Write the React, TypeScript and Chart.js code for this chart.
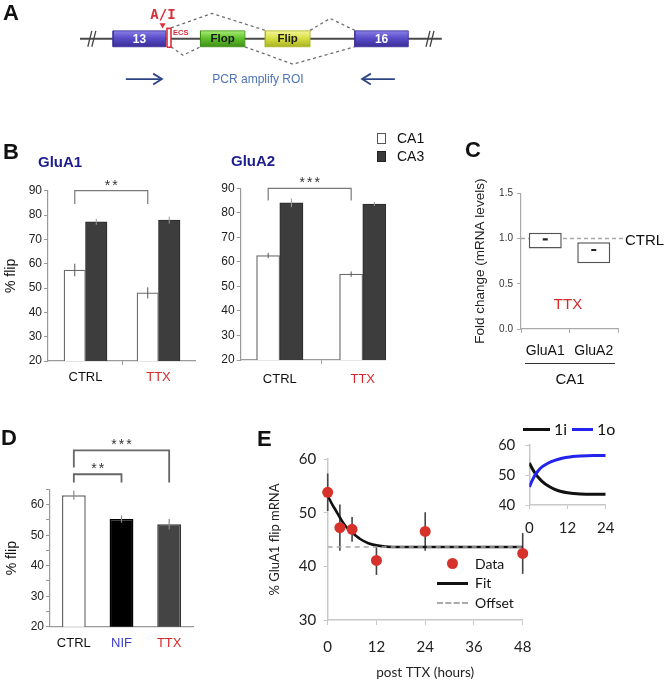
import React, { useEffect, useRef } from "react";
import { Chart, registerables } from "chart.js";

Chart.register(...registerables);

const W = 664;
const H = 682;
const SANS = "'Liberation Sans', Arial, Helvetica, sans-serif";
const LATO = "Lato, 'Liberation Sans', Arial, sans-serif";
const MONO = "'DejaVu Sans Mono', 'Liberation Mono', monospace";
const RED = "#d42a2a";

Chart.defaults.font.family = SANS;
Chart.defaults.color = "#222";

// ---------------- Panel A (diagram units: x 0–100 along the gene) ----------------
const intronSpan = [0, 99.4];
const exonNames = ["13", "Flop", "Flip", "16"];
const exonStart = [9.07, 33.1, 50.9, 75.5];
const exonEnd = [23.6, 45.3, 63.2, 90.2];
const exonHalf = 0.8;
const exonShade = [
  ["#8a80e6", "#5a4dc9", "#3a2e99"],
  ["#a8ec78", "#62c42c", "#3f8f18"],
  ["#f4f59a", "#d8e046", "#a9b320"],
  ["#8a80e6", "#5a4dc9", "#3a2e99"],
];
const exonTextColor = ["#ffffff", "#1a1a1a", "#1a1a1a", "#ffffff"];
const slashX = [2.7, 3.8, 95.6, 96.7];
const spliceUpper = [
  [[25.0, 1.1], [36.3, 2.55], [50.9, 0.85]],
  [[63.2, 0.85], [68.7, 2.05], [75.5, 0.85]],
];
const spliceLower = [
  [[25.0, -0.8], [28.3, -1.65], [33.1, -0.8]],
  [[45.3, -0.8], [58.5, -2.55], [75.5, -0.8]],
];
const ecsX = [23.9, 25.0];
const ecsY = [-0.85, 1.05];
const editSite = [22.7, 1.4];
const primerY = -4.05;
const primerFwd = [12.6, 22.5];
const primerRev = [86.5, 77.5];

// ---------------- Panel B ----------------
const bConds = ["CTRL", "TTX"];
const bCondColors = ["#111111", RED];
const gluA1CA1 = [57.4, 48.0];
const gluA1CA1Err = [2.6, 2.3];
const gluA1CA3 = [77.2, 77.9];
const gluA1CA3Err = [1.2, 1.4];
const gluA2CA1 = [62.6, 55.0];
const gluA2CA1Err = [1.1, 1.1];
const gluA2CA3 = [84.1, 83.6];
const gluA2CA3Err = [1.8, 0.8];
const gluA1Brackets = [{ from: [0, 0], to: [0, 1], top: 90, dropFrom: 84.5, dropTo: 84.5, label: "**" }];
const gluA2Brackets = [{ from: [0, 0], to: [0, 1], top: 90, dropFrom: 85, dropTo: 85, label: "***" }];

// ---------------- Panel C ----------------
const cGenes = ["GluA1", "GluA2"];
const cLow = [0.89, 0.726];
const cHigh = [1.064, 0.958];
const cMean = [0.99, 0.873];
const ctrlLevel = 1.0;

// ---------------- Panel D ----------------
const dConds = ["CTRL", "NIF", "TTX"];
const dLabelColors = ["#111111", "#3c3cd0", RED];
const dVals = [63.1, 55.3, 53.6];
const dErr = [1.5, 1.2, 1.7];
const dFill = ["#ffffff", "#000000", "#444444"];
const dBorder = ["#666666", "#000000", "#333333"];
const dBrackets = [
  { from: [0, 0], to: [0, 1], top: 70, dropFrom: 67.3, dropTo: 67.3, label: "**" },
  { from: [0, 0], to: [0, 2], top: 77.8, dropFrom: 72.2, dropTo: 67.3, label: "***" },
];

// ---------------- Panel E ----------------
const eHours = [0, 3, 6, 12, 24, 48];
const eFlip = [53.8, 47.2, 46.9, 41.1, 46.5, 42.4];
const eErr = [3.5, 4.3, 2.3, 2.7, 3.6, 3.8];
const fitHours = [0, 1, 2, 3, 4, 5, 6, 8, 10, 12, 16, 24, 48];
const fitFlip = [53.2, 51.7, 50.4, 49.1, 47.9, 47.0, 46.3, 45.1, 44.3, 43.9, 43.6, 43.6, 43.6];
const offsetHours = [0, 48];
const offsetFlip = [43.6, 43.6];
const insetHours = [0, 1, 2, 3, 4, 6, 8, 10, 12, 16, 20, 24];
const inset1i = [54.0, 52.0, 50.3, 49.0, 47.9, 46.3, 45.2, 44.5, 44.1, 43.7, 43.6, 43.6];
const inset1o = [46.0, 48.4, 50.3, 51.7, 52.7, 54.0, 54.9, 55.5, 55.9, 56.3, 56.5, 56.5];

// ---------------- helpers ----------------
function frame(l: number, t: number, r: number, b: number, yW = 0, xH = 0) {
  return { left: l - yW, top: t, right: W - r, bottom: H - b - xH };
}

function common(padding: any) {
  return {
    responsive: false,
    maintainAspectRatio: false,
    animation: false,
    events: [],
    layout: { padding },
    plugins: { legend: { display: false }, tooltip: { enabled: false } },
  };
}

function drawErrors(chart: any, behind: boolean) {
  const ctx = chart.ctx;
  chart.data.datasets.forEach((ds: any, i: number) => {
    if (!ds.errors || Boolean(ds.errBehind) !== behind) return;
    const meta = chart.getDatasetMeta(i);
    const ys = chart.scales[meta.yAxisID];
    ctx.save();
    ctx.strokeStyle = ds.errColor || "#555";
    ctx.lineWidth = ds.errWidth || 1;
    meta.data.forEach((el: any, j: number) => {
      const raw = ds.data[j];
      const v = typeof raw === "number" ? raw : raw.y;
      const e = ds.errors[j];
      ctx.beginPath();
      ctx.moveTo(el.x, ys.getPixelForValue(v + e));
      ctx.lineTo(el.x, ys.getPixelForValue(v - e));
      ctx.stroke();
    });
    ctx.restore();
  });
}

const errorBars = {
  id: "errorBars",
  beforeDatasetsDraw(chart: any) {
    drawErrors(chart, true);
  },
  afterDatasetsDraw(chart: any) {
    drawErrors(chart, false);
  },
};

function bracketPlugin(items: any[], color: string, width: number) {
  return {
    id: "brackets",
    afterDatasetsDraw(chart: any) {
      const ctx = chart.ctx;
      const ys = chart.scales.y;
      ctx.save();
      ctx.strokeStyle = color;
      ctx.lineWidth = width;
      ctx.fillStyle = "#333";
      ctx.font = `14px ${SANS}`;
      ctx.textAlign = "center";
      ctx.textBaseline = "alphabetic";
      try {
        (ctx as any).letterSpacing = "2px";
      } catch (e) {}
      items.forEach((it) => {
        const xa = chart.getDatasetMeta(it.from[0]).data[it.from[1]].x;
        const xb = chart.getDatasetMeta(it.to[0]).data[it.to[1]].x;
        const yt = ys.getPixelForValue(it.top);
        ctx.beginPath();
        ctx.moveTo(xa, ys.getPixelForValue(it.dropFrom));
        ctx.lineTo(xa, yt);
        ctx.lineTo(xb, yt);
        ctx.lineTo(xb, ys.getPixelForValue(it.dropTo));
        ctx.stroke();
        ctx.fillText(it.label, (xa + xb) / 2 + 1, yt - 1);
      });
      ctx.restore();
    },
  };
}

function ChartLayer({ config }: { config: () => any }) {
  const ref = useRef<HTMLCanvasElement | null>(null);
  useEffect(() => {
    const chart = new Chart(ref.current as HTMLCanvasElement, config());
    return () => chart.destroy();
  }, []);
  return (
    <canvas
      ref={ref}
      width={W}
      height={H}
      style={{ position: "absolute", left: 0, top: 0, width: W, height: H, pointerEvents: "none" }}
    />
  );
}

// ---------------- configs ----------------
function configA() {
  const line = (pts: number[][], color: string, width: number, dash: number[] = []) => ({
    data: pts.map(([x, y]) => ({ x, y })),
    borderColor: color,
    borderWidth: width,
    borderDash: dash,
    pointRadius: 0,
    fill: false,
    tension: 0,
  });
  const rect = (x0: number, x1: number, y0: number, y1: number) => [
    [x0, y0], [x1, y0], [x1, y1], [x0, y1], [x0, y0],
  ];
  const grad = (c: any, cols: string[]) => {
    const chart = c.chart;
    if (!chart.chartArea) return cols[1];
    const ys = chart.scales.y;
    const g = chart.ctx.createLinearGradient(0, ys.getPixelForValue(exonHalf), 0, ys.getPixelForValue(-exonHalf));
    g.addColorStop(0, cols[0]);
    g.addColorStop(0.45, cols[1]);
    g.addColorStop(1, cols[2]);
    return g;
  };
  const ds: any[] = [];
  ds.push({
    data: [{ x: editSite[0], y: editSite[1] }],
    showLine: false,
    pointStyle: "triangle",
    rotation: 180,
    pointRadius: 3.5,
    pointBackgroundColor: "#d9303a",
    pointBorderWidth: 0,
  });
  ds.push({ ...line(rect(ecsX[0], ecsX[1], ecsY[0], ecsY[1]), "#d9303a", 1.6), fill: "shape", backgroundColor: "#ffffff" });
  exonNames.forEach((_, i) => {
    ds.push({
      ...line(rect(exonStart[i], exonEnd[i], -exonHalf, exonHalf), exonShade[i][2], 0.8),
      fill: "shape",
      backgroundColor: (c: any) => grad(c, exonShade[i]),
    });
  });
  spliceUpper.concat(spliceLower).forEach((p) => ds.push(line(p, "#6e6e6e", 1.3, [3, 3])));
  slashX.forEach((sx) => ds.push(line([[sx - 0.55, -0.8], [sx + 0.55, 0.8]], "#444", 1.3)));
  ds.push(line([[intronSpan[0], 0], [intronSpan[1], 0]], "#4a4a4a", 2));
  [primerFwd, primerRev].forEach((p) => {
    const dir = Math.sign(p[1] - p[0]);
    ds.push(line([[p[0], primerY], [p[1], primerY]], "#2d4586", 1.8));
    ds.push(
      line(
        [[p[1] - dir * 2.4, primerY + 0.55], [p[1], primerY], [p[1] - dir * 2.4, primerY - 0.55]],
        "#2d4586",
        1.8
      )
    );
  });
  const labels = {
    id: "exonLabels",
    afterDatasetsDraw(chart: any) {
      const { ctx } = chart;
      const xs = chart.scales.x;
      const ys = chart.scales.y;
      ctx.save();
      ctx.textAlign = "center";
      ctx.textBaseline = "middle";
      exonNames.forEach((n, i) => {
        ctx.font = `bold ${i === 0 || i === 3 ? 12 : 11.5}px ${SANS}`;
        ctx.fillStyle = exonTextColor[i];
        ctx.fillText(n, xs.getPixelForValue((exonStart[i] + exonEnd[i]) / 2), ys.getPixelForValue(0) + 0.5);
      });
      ctx.restore();
    },
  };
  return {
    type: "line",
    data: { datasets: ds },
    options: {
      ...common(frame(80, 3.5, 444, 98.5)),
      scales: {
        x: { type: "linear", min: 0, max: 100, display: false },
        y: { type: "linear", min: -6, max: 3.5, display: false },
      },
    },
    plugins: [labels],
  };
}

function configB(p: any) {
  return () => ({
    type: "bar",
    data: {
      datasets: [
        {
          label: "CA1",
          data: p.ca1.map((y: number, i: number) => ({ x: i, y })),
          backgroundColor: "#ffffff",
          borderColor: "#6a6a6a",
          borderWidth: 1.3,
          barThickness: p.thick,
          errors: p.ca1Err,
          errColor: "#555",
          errWidth: 1,
        },
        {
          label: "CA3",
          data: p.ca3.map((y: number, i: number) => ({ x: i, y })),
          backgroundColor: "#3d3d3d",
          borderColor: "#2a2a2a",
          borderWidth: 1,
          barThickness: p.thick,
          errors: p.ca3Err,
          errColor: "#9a9a9a",
          errWidth: 1,
        },
      ],
    },
    options: {
      ...common(frame(p.l, p.t, p.r, p.b, p.yW, 30)),
      scales: {
        x: {
          type: "linear",
          min: p.xMin,
          max: p.xMax,
          offset: false,
          afterBuildTicks: (s: any) => {
            s.ticks = [0, 0.5, 1].map((value) => ({ value }));
          },
          ticks: {
            autoSkip: false,
            maxRotation: 0,
            font: { size: 13 },
            padding: p.labelPad,
            callback: (v: number) => (v === 0 ? bConds[0] : v === 1 ? bConds[1] : ""),
            color: (c: any) => bCondColors[c.tick && c.tick.value === 1 ? 1 : 0],
          },
          grid: {
            drawOnChartArea: false,
            offset: false,
            tickLength: 4,
            color: (c: any) => (c.tick && c.tick.value === 0.5 ? "#9a9a9a" : "rgba(0,0,0,0)"),
          },
          border: { color: "#9a9a9a", width: 1.2 },
          afterFit: (s: any) => {
            s.height = 30;
          },
        },
        y: {
          min: 20,
          max: 90,
          ticks: { stepSize: 10, autoSkip: false, font: { size: 12 }, padding: 2, color: "#222" },
          grid: { drawOnChartArea: false, tickLength: 4, color: "#9a9a9a" },
          border: { color: "#9a9a9a", width: 1.2 },
          title: p.title
            ? { display: true, text: p.title, font: { size: 14 }, padding: 0, color: "#111" }
            : { display: false },
          afterFit: (s: any) => {
            s.width = p.yW;
          },
        },
      },
    },
    plugins: [errorBars, bracketPlugin(p.brackets, "#7a7a7a", 1.2)],
  });
}

const configB1 = configB({
  ca1: gluA1CA1, ca1Err: gluA1CA1Err, ca3: gluA1CA3, ca3Err: gluA1CA3Err,
  l: 48, t: 190.7, r: 195, b: 361, yW: 45.6, xMin: -0.514, xMax: 1.5, thick: 21.5,
  title: "% flip", labelPad: 4.5, brackets: gluA1Brackets,
});
const configB2 = configB({
  ca1: gluA2CA1, ca1Err: gluA2CA1Err, ca3: gluA2CA3, ca3Err: gluA2CA3Err,
  l: 240.7, t: 188.3, r: 386, b: 360, yW: 22.7, xMin: -0.471, xMax: 1.28, thick: 23.2,
  title: "", labelPad: 8, brackets: gluA2Brackets,
});

function configC() {
  const refLine = {
    id: "refLine",
    beforeDatasetsDraw(chart: any) {
      const { ctx, chartArea } = chart;
      const y = chart.scales.y.getPixelForValue(ctrlLevel);
      ctx.save();
      ctx.strokeStyle = "#a8a8a8";
      ctx.lineWidth = 1.5;
      ctx.setLineDash([4, 3]);
      ctx.beginPath();
      ctx.moveTo(chartArea.left, y);
      ctx.lineTo(chartArea.right + 5, y);
      ctx.stroke();
      ctx.restore();
    },
  };
  return {
    type: "bar",
    data: {
      labels: cGenes,
      datasets: [
        {
          type: "line",
          label: "mean",
          data: cMean,
          showLine: false,
          pointStyle: "line",
          pointRadius: 2.5,
          pointBorderWidth: 2.2,
          pointBorderColor: "#222",
          borderColor: "#222",
        },
        {
          label: "range",
          data: cGenes.map((_, i) => [cLow[i], cHigh[i]]),
          backgroundColor: "#ffffff",
          borderColor: "#555",
          borderWidth: 1.5,
          borderSkipped: false,
          barPercentage: 0.68,
          categoryPercentage: 1,
        },
      ],
    },
    options: {
      ...common(frame(521, 193.3, 618, 329, 49.1, 30)),
      scales: {
        x: {
          grid: { drawOnChartArea: false, tickLength: 4, color: "#aaa" },
          border: { color: "#aaa", width: 1.2 },
          ticks: { font: { size: 14 }, padding: 10, color: "#111" },
          afterFit: (s: any) => {
            s.height = 30;
          },
        },
        y: {
          min: 0,
          max: 1.5,
          ticks: {
            stepSize: 0.5,
            callback: (v: number) => Number(v).toFixed(1),
            font: { size: 10 },
            padding: 4,
            color: "#333",
          },
          grid: { drawOnChartArea: false, tickLength: 4, color: "#aaa" },
          border: { color: "#aaa", width: 1.2 },
          title: { display: true, text: "Fold change (mRNA levels)", font: { size: 13.5 }, padding: 0, color: "#222" },
          afterFit: (s: any) => {
            s.width = 49.1;
          },
        },
      },
    },
    plugins: [refLine],
  };
}

function configD() {
  return {
    type: "bar",
    data: {
      labels: dConds,
      datasets: [
        {
          data: dVals,
          backgroundColor: dFill,
          borderColor: dBorder,
          borderWidth: 1.5,
          barPercentage: 0.5,
          categoryPercentage: 1,
          errors: dErr,
          errColor: "#8a8a8a",
          errWidth: 1.2,
        },
      ],
    },
    options: {
      ...common(frame(50, 489.5, 193, 626.7, 46.4, 30)),
      scales: {
        x: {
          grid: { display: false, drawTicks: false },
          border: { color: "#999", width: 1.2 },
          ticks: { font: { size: 13 }, padding: 8.5, color: (c: any) => dLabelColors[c.index] },
          afterFit: (s: any) => {
            s.height = 30;
          },
        },
        y: {
          min: 20,
          max: 65,
          ticks: {
            stepSize: 5,
            autoSkip: false,
            callback: (v: number) => (v % 10 === 0 ? String(v) : ""),
            font: { size: 12 },
            padding: 2,
            color: "#222",
          },
          grid: { drawOnChartArea: false, tickLength: 4, color: "#999" },
          border: { color: "#999", width: 1.2 },
          title: { display: true, text: "% flip", font: { size: 14 }, padding: 0, color: "#111" },
          afterFit: (s: any) => {
            s.width = 46.4;
          },
        },
      },
    },
    plugins: [errorBars, bracketPlugin(dBrackets, "#666", 1.8)],
  };
}

function configE() {
  return {
    type: "scatter",
    data: {
      datasets: [
        {
          label: "Data",
          data: eHours.map((x, i) => ({ x, y: eFlip[i] })),
          pointRadius: 5.5,
          pointBackgroundColor: "#d6312b",
          pointBorderWidth: 0,
          showLine: false,
          clip: false,
          errors: eErr,
          errBehind: true,
          errColor: "#444",
          errWidth: 1.6,
        },
        {
          label: "Offset",
          data: offsetHours.map((x, i) => ({ x, y: offsetFlip[i] })),
          showLine: true,
          pointRadius: 0,
          borderColor: "#a8a8a8",
          borderWidth: 1.6,
          borderDash: [5, 4],
        },
        {
          label: "Fit",
          data: fitHours.map((x, i) => ({ x, y: fitFlip[i] })),
          showLine: true,
          pointRadius: 0,
          borderColor: "#111",
          borderWidth: 2.6,
          cubicInterpolationMode: "monotone",
        },
      ],
    },
    options: {
      ...common(frame(327.7, 459, 522.7, 620, 60.5, 60.8)),
      scales: {
        x: {
          type: "linear",
          min: 0,
          max: 48,
          ticks: { stepSize: 12, font: { size: 15, family: LATO }, padding: 13.5, color: "#222", maxRotation: 0 },
          grid: { drawOnChartArea: false, tickLength: 5, color: "#c8c8c8" },
          border: { color: "#c8c8c8", width: 1.5 },
          title: { display: true, text: "post TTX (hours)", font: { size: 13.5, family: LATO }, padding: 0, color: "#222" },
          afterFit: (s: any) => {
            s.height = 60.8;
          },
        },
        y: {
          min: 30,
          max: 60,
          ticks: { stepSize: 10, font: { size: 15, family: LATO }, padding: 7.5, color: "#222" },
          grid: { drawOnChartArea: false, tickLength: 4, color: "#c8c8c8" },
          border: { color: "#c8c8c8", width: 1.5 },
          title: { display: true, text: "% GluA1 flip mRNA", font: { size: 13, family: LATO }, padding: 0, color: "#222" },
          afterFit: (s: any) => {
            s.width = 60.5;
          },
        },
      },
    },
    plugins: [errorBars],
  };
}

function configInset() {
  return {
    type: "scatter",
    data: {
      datasets: [
        {
          label: "1o",
          data: insetHours.map((x, i) => ({ x, y: inset1o[i] })),
          showLine: true,
          pointRadius: 0,
          borderColor: "#2323ee",
          borderWidth: 3,
          cubicInterpolationMode: "monotone",
        },
        {
          label: "1i",
          data: insetHours.map((x, i) => ({ x, y: inset1i[i] })),
          showLine: true,
          pointRadius: 0,
          borderColor: "#111",
          borderWidth: 3,
          cubicInterpolationMode: "monotone",
        },
      ],
    },
    options: {
      ...common(frame(529.3, 445, 605.7, 505, 30, 30)),
      scales: {
        x: {
          type: "linear",
          min: 0,
          max: 24,
          ticks: { stepSize: 12, font: { size: 15, family: LATO }, padding: 10.5, color: "#222", maxRotation: 0 },
          grid: { drawOnChartArea: false, tickLength: 4, color: "#c8c8c8" },
          border: { color: "#c8c8c8", width: 1.5 },
          afterFit: (s: any) => {
            s.height = 30;
          },
        },
        y: {
          min: 40,
          max: 60,
          ticks: { stepSize: 10, font: { size: 15, family: LATO }, padding: 10, color: "#222" },
          grid: { drawOnChartArea: false, tickLength: 4, color: "#c8c8c8" },
          border: { color: "#c8c8c8", width: 1.5 },
          afterFit: (s: any) => {
            s.width = 30;
          },
        },
      },
    },
  };
}

// ---------------- text overlay ----------------
function Txt(props: {
  x: number;
  y: number;
  children: React.ReactNode;
  size?: number;
  color?: string;
  bold?: boolean;
  align?: "left" | "center" | "right";
  family?: string;
}) {
  const { x, y, children, size = 13, color = "#111", bold = false, align = "left", family = SANS } = props;
  const tx = align === "center" ? "-50%" : align === "right" ? "-100%" : "0";
  return (
    <div
      style={{
        position: "absolute",
        left: x,
        top: y,
        transform: `translate(${tx}, -50%)`,
        fontSize: size,
        lineHeight: 1,
        color,
        fontWeight: bold ? 700 : 400,
        fontFamily: family,
        whiteSpace: "nowrap",
      }}
    >
      {children}
    </div>
  );
}

function Box(props: { x: number; y: number; w: number; h: number; style: React.CSSProperties }) {
  return <div style={{ position: "absolute", left: props.x, top: props.y, width: props.w, height: props.h, boxSizing: "border-box", ...props.style }} />;
}

export default function App() {
  return (
    <div style={{ position: "absolute", left: 0, top: 0, width: W, height: H, background: "#fff", overflow: "hidden", fontFamily: SANS }}>
      <ChartLayer config={configA} />
      <ChartLayer config={configB1} />
      <ChartLayer config={configB2} />
      <ChartLayer config={configC} />
      <ChartLayer config={configD} />
      <ChartLayer config={configE} />
      <ChartLayer config={configInset} />

      {/* Panel A */}
      <Txt x={3} y={12.5} size={22} bold>A</Txt>
      <Txt x={163} y={14} size={14} bold color="#d9303a" align="center" family={MONO}>A/I</Txt>
      <Txt x={173} y={32.5} size={7.5} bold color="#d9303a">ECS</Txt>
      <Txt x={258} y={79} size={12} color="#4f74b5" align="center">PCR amplify ROI</Txt>

      {/* Panel B */}
      <Txt x={3} y={152} size={22} bold>B</Txt>
      <Txt x={38} y={161} size={15} bold color="#1d1d8f">GluA1</Txt>
      <Txt x={231} y={160} size={15} bold color="#1d1d8f">GluA2</Txt>
      <Box x={377} y={133} w={9} h={11} style={{ border: "1px solid #555", background: "#fff" }} />
      <Txt x={397} y={138} size={14}>CA1</Txt>
      <Box x={377} y={151} w={9} h={11} style={{ border: "1px solid #222", background: "#3a3a3a" }} />
      <Txt x={397} y={156} size={14}>CA3</Txt>

      {/* Panel C */}
      <Txt x={465} y={150} size={22} bold>C</Txt>
      <Txt x={625} y={238.5} size={15}>CTRL</Txt>
      <Txt x={568} y={303} size={15} color={RED} align="center">TTX</Txt>
      <Box x={525} y={362.5} w={90} h={0} style={{ borderTop: "1.3px solid #333" }} />
      <Txt x={570} y={378} size={15} align="center">CA1</Txt>

      {/* Panel D */}
      <Txt x={1} y={438} size={22} bold>D</Txt>

      {/* Panel E */}
      <Txt x={257} y={439} size={22} bold>E</Txt>
      <Box x={446.5} y={558} w={11} h={11} style={{ borderRadius: "50%", background: "#d6312b" }} />
      <Txt x={475} y={564} size={14} family={LATO}>Data</Txt>
      <Box x={437} y={581.5} w={31} h={3} style={{ background: "#111" }} />
      <Txt x={475} y={583} size={14} family={LATO}>Fit</Txt>
      <Box x={437} y={601.5} w={31} h={0} style={{ borderTop: "2px dashed #aaa" }} />
      <Txt x={475} y={602.5} size={14} family={LATO}>Offset</Txt>
      <Box x={523} y={427.5} w={27} h={3} style={{ background: "#111" }} />
      <Txt x={554} y={429} size={16} family={LATO}>1i</Txt>
      <Box x={572} y={427.5} w={21} h={3} style={{ background: "#2323ee" }} />
      <Txt x={597} y={429} size={16} family={LATO}>1o</Txt>
    </div>
  );
}
